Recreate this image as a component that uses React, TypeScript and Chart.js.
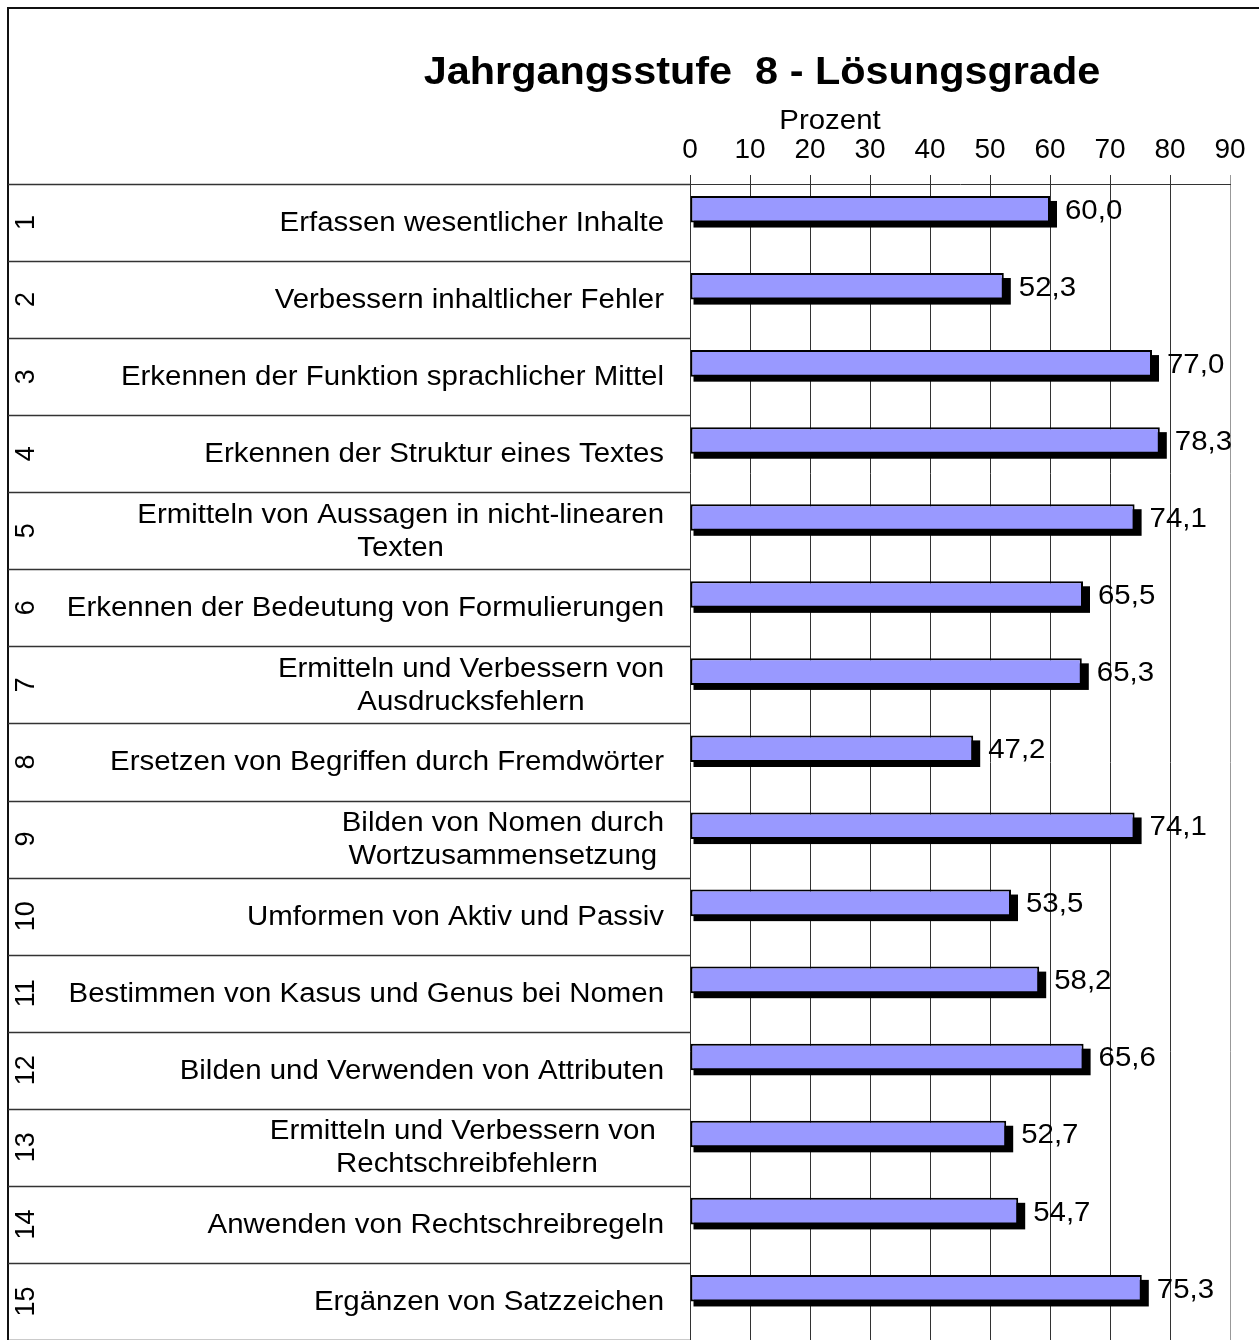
import React, { useEffect, useRef } from 'react';
import { Chart, registerables } from 'chart.js';

Chart.register(...registerables);

const TITLE = 'Jahrgangsstufe  8 - Lösungsgrade';
const AXIS_TITLE = 'Prozent';
const ROW_NUMBERS = ['1', '2', '3', '4', '5', '6', '7', '8', '9', '10', '11', '12', '13', '14', '15'];
const ROW_LABELS: string[][] = [
  ['Erfassen wesentlicher Inhalte'],
  ['Verbessern inhaltlicher Fehler'],
  ['Erkennen der Funktion sprachlicher Mittel'],
  ['Erkennen der Struktur eines Textes'],
  ['Ermitteln von Aussagen in nicht-linearen', 'Texten'],
  ['Erkennen der Bedeutung von Formulierungen'],
  ['Ermitteln und Verbessern von', 'Ausdrucksfehlern'],
  ['Ersetzen von Begriffen durch Fremdwörter'],
  ['Bilden von Nomen durch', 'Wortzusammensetzung'],
  ['Umformen von Aktiv und Passiv'],
  ['Bestimmen von Kasus und Genus bei Nomen'],
  ['Bilden und Verwenden von Attributen'],
  ['Ermitteln und Verbessern von ', 'Rechtschreibfehlern'],
  ['Anwenden von Rechtschreibregeln'],
  ['Ergänzen von Satzzeichen'],
];
const VALUES = [60.0, 52.3, 77.0, 78.3, 74.1, 65.5, 65.3, 47.2, 74.1, 53.5, 58.2, 65.6, 52.7, 54.7, 75.3];
const X_MIN = 0;
const X_MAX = 90;
const X_STEP = 10;

const FONT = "'Liberation Sans', Arial, sans-serif";
const HS = 1.09;

const fmt = (v: number) => v.toFixed(1).replace('.', ',');

function drawText(ctx: CanvasRenderingContext2D, text: string, x: number, y: number, align: CanvasTextAlign) {
  ctx.save();
  ctx.translate(x, y);
  ctx.scale(HS, 1);
  ctx.textAlign = align;
  ctx.textBaseline = 'middle';
  ctx.fillText(text, 0, 0);
  ctx.restore();
}

const tablePlugin = {
  id: 'tablePlugin',
  beforeDraw(chart: any) {
    const ctx = chart.ctx as CanvasRenderingContext2D;
    const area = chart.chartArea;
    const n = ROW_NUMBERS.length;
    const rowH = (area.bottom - area.top) / n;
    ctx.save();
    ctx.fillStyle = '#ffffff';
    ctx.fillRect(0, 0, chart.width, chart.height);
    // outer frame
    ctx.strokeStyle = '#111';
    ctx.lineWidth = 2;
    ctx.beginPath();
    ctx.moveTo(8, chart.height);
    ctx.lineTo(8, 8);
    ctx.lineTo(chart.width, 8);
    ctx.stroke();
    // row separators
    ctx.strokeStyle = '#333';
    ctx.lineWidth = 1.5;
    for (let i = 0; i <= n; i++) {
      const y = Math.round(area.top + i * rowH) + 0.5;
      ctx.beginPath();
      ctx.moveTo(8, y);
      ctx.lineTo(area.left, y);
      ctx.stroke();
    }
    // title
    ctx.fillStyle = '#000';
    ctx.font = `bold 38px ${FONT}`;
    drawText(ctx, TITLE, 762, 74, 'center');
    ctx.font = `27px ${FONT}`;
    drawText(ctx, AXIS_TITLE, 830, 122, 'center');
    // row numbers and labels
    for (let i = 0; i < n; i++) {
      const cy = area.top + (i + 0.5) * rowH;
      ctx.save();
      ctx.translate(27, cy);
      ctx.rotate(-Math.PI / 2);
      ctx.textAlign = 'center';
      ctx.textBaseline = 'middle';
      ctx.fillText(ROW_NUMBERS[i], 0, 0);
      ctx.restore();
      const lines = ROW_LABELS[i];
      const maxW = Math.max(...lines.map((l) => ctx.measureText(l).width)) * HS;
      const cx = 664 - maxW / 2;
      const lh = 33;
      const y0 = cy + 1 - ((lines.length - 1) * lh) / 2;
      lines.forEach((l, k) => {
        drawText(ctx, l, cx, y0 + k * lh, 'center');
      });
    }
    ctx.restore();
  },
  beforeDatasetsDraw(chart: any) {
    const ctx = chart.ctx as CanvasRenderingContext2D;
    const meta = chart.getDatasetMeta(0);
    ctx.save();
    ctx.fillStyle = '#000';
    meta.data.forEach((bar: any) => {
      const p = bar.getProps(['x', 'y', 'base', 'height'], true);
      const left = Math.min(p.base, p.x);
      const right = Math.max(p.base, p.x);
      const top = p.y - p.height / 2;
      ctx.fillRect(left + 3, top + 5, right + 7 - (left + 3), p.height);
    });
    ctx.restore();
  },
  afterDatasetsDraw(chart: any) {
    const ctx = chart.ctx as CanvasRenderingContext2D;
    const meta = chart.getDatasetMeta(0);
    ctx.save();
    ctx.fillStyle = '#000';
    ctx.font = `27px ${FONT}`;
    meta.data.forEach((bar: any, i: number) => {
      const p = bar.getProps(['x', 'y'], true);
      drawText(ctx, fmt(VALUES[i]), p.x + 15, p.y + 2, 'left');
    });
    ctx.restore();
  },
};

export default function App() {
  const ref = useRef<HTMLCanvasElement>(null);
  useEffect(() => {
    const chart = new Chart(ref.current as HTMLCanvasElement, {
      type: 'bar',
      data: {
        labels: ROW_NUMBERS,
        datasets: [
          {
            data: VALUES,
            backgroundColor: '#9999FF',
            borderColor: '#000000',
            borderWidth: 2,
            borderSkipped: false,
            categoryPercentage: 0.69,
            barPercentage: 1,
          },
          {
            data: VALUES.map(() => null),
            categoryPercentage: 0.69,
            barPercentage: 1,
          },
        ],
      },
      options: {
        indexAxis: 'y',
        animation: false,
        responsive: true,
        maintainAspectRatio: false,
        layout: { padding: { left: 690, right: 29, top: 0, bottom: 0 } },
        plugins: {
          legend: { display: false },
          tooltip: { enabled: false },
          title: { display: false },
        },
        scales: {
          x: {
            position: 'top',
            min: X_MIN,
            max: X_MAX,
            ticks: {
              stepSize: X_STEP,
              padding: 8,
              color: '#000',
              font: { family: FONT, size: 28 },
            },
            grid: {
              color: (c: any) => (c.tick && c.tick.value === X_MAX ? '#999999' : '#333333'),
              lineWidth: 1,
              tickLength: 9,
              drawTicks: true,
            },
            border: { display: true, color: '#333333', width: 1 },
            afterFit: (s: any) => {
              s.height = 184;
            },
          },
          y: { display: false, offset: true },
        },
      } as any,
      plugins: [tablePlugin],
    });
    return () => chart.destroy();
  }, []);
  return (
    <div style={{ position: 'fixed', left: 0, top: 0, width: 1259, height: 1340, background: '#fff' }}>
      <canvas ref={ref} />
    </div>
  );
}
